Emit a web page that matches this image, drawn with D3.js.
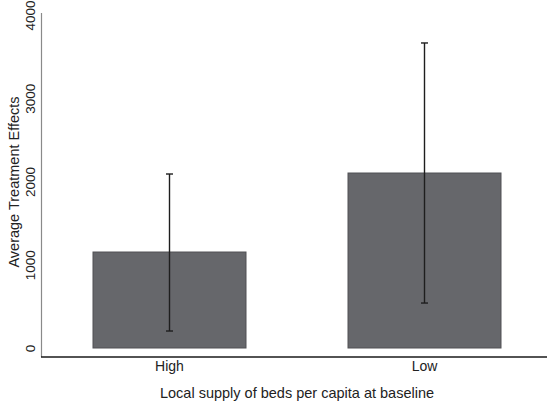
<!DOCTYPE html>
<html><head><meta charset="utf-8">
<script src="https://cdn.jsdelivr.net/npm/d3@7/dist/d3.min.js"></script>
<style>body{margin:0;background:#fff}svg{display:block;font-family:"Liberation Sans",Arial,sans-serif}</style>
</head><body>
<svg id="c" width="547" height="405"></svg>
<script>
const categories = ["High", "Low"];
const means = [1153, 2102];
const ciLow = [204, 540];
const ciHigh = [2090, 3664];
const yTicks = [0, 1000, 2000, 3000, 4000];
const xTitle = "Local supply of beds per capita at baseline";
const yTitle = "Average Treatment Effects";

const svg = d3.select("#c");
const x = d3.scaleBand().domain(categories).range([42, 552]).paddingInner(0.4).paddingOuter(0.2);
const y = d3.scaleLinear().domain([0, 4000]).range([348, 15]);

// bars
svg.selectAll("rect.bar").data(categories).join("rect")
  .attr("class","bar")
  .attr("x", d => x(d)).attr("width", x.bandwidth())
  .attr("y", (d,i) => y(means[i])).attr("height", (d,i) => y(0) - y(means[i]))
  .attr("fill", "#66676b").attr("stroke", "#505155").attr("stroke-width", 1);

// error bars
const eb = svg.selectAll("g.eb").data(categories).join("g").attr("class","eb");
eb.append("line").attr("x1", d => x(d)+x.bandwidth()/2).attr("x2", d => x(d)+x.bandwidth()/2)
  .attr("y1", (d,i) => y(ciLow[i])).attr("y2", (d,i) => y(ciHigh[i]))
  .attr("stroke", "#1e1e1e").attr("stroke-width", 1.4);
["lo","hi"].forEach(k => {
  eb.append("line").attr("x1", d => x(d)+x.bandwidth()/2-3.5).attr("x2", d => x(d)+x.bandwidth()/2+3.5)
    .attr("y1", (d,i) => y(k==="lo"?ciLow[i]:ciHigh[i])).attr("y2", (d,i) => y(k==="lo"?ciLow[i]:ciHigh[i]))
    .attr("stroke", "#1e1e1e").attr("stroke-width", 1.4);
});

// y axis
const yAxis = svg.append("g").attr("transform","translate(41.5,0)")
  .call(d3.axisLeft(y).tickValues(yTicks).tickSize(0).tickPadding(0).tickFormat(d3.format("d")));
yAxis.attr("font-size", 13.5).attr("font-family","'Liberation Sans',Arial,sans-serif");
yAxis.select(".domain").attr("d", "M0,13V357").attr("stroke","#8a8a8a").attr("stroke-width",1.2);
yAxis.selectAll(".tick text").attr("transform","rotate(-90)").attr("x",0).attr("y",-7)
  .attr("dy","0").attr("text-anchor","middle").attr("fill","#222");

// x axis
const xAxis = svg.append("g").attr("transform","translate(0,357)")
  .call(d3.axisBottom(x).tickSize(0).tickPadding(0));
xAxis.attr("font-size", 14).attr("font-family","'Liberation Sans',Arial,sans-serif");
xAxis.select(".domain").attr("d","M41,0H547").attr("stroke","#1a1a1a").attr("stroke-width",1.5);
xAxis.selectAll(".tick text").attr("y",14).attr("dy","0").attr("fill","#222");

// titles
svg.append("text").attr("x",297).attr("y",398).attr("text-anchor","middle")
  .attr("font-size",14.5).attr("fill","#222").text(xTitle);
svg.append("text").attr("transform","translate(19,182) rotate(-90)").attr("text-anchor","middle")
  .attr("font-size",14.5).attr("fill","#222").text(yTitle);
</script>
</body></html>
